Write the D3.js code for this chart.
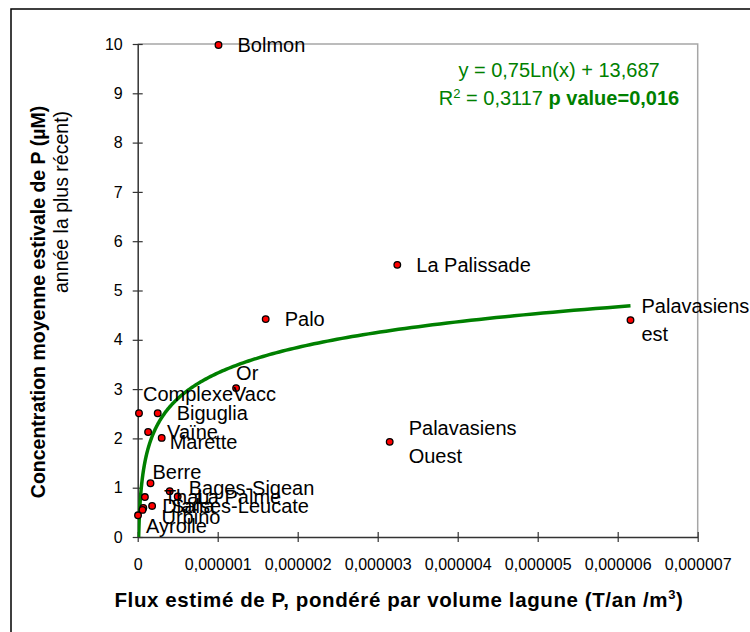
<!DOCTYPE html>
<html>
<head>
<meta charset="utf-8">
<script src="https://cdn.jsdelivr.net/npm/d3@7"></script>
<style>
  body { margin: 0; background: #fff; }
  text { font-family: "Liberation Sans", Arial, sans-serif; }
</style>
</head>
<body>
<script>
// lagoons, flux (T/an/m3) and summer P concentration (uM)
var lagoons = ["Bolmon", "La Palissade", "Palo", "Palavasiens\nest", "Palavasiens\nOuest",
  "Or", "ComplexeVacc", "Biguglia", "Vaïne", "Marette", "Berre", "Bages-Sigean",
  "La Palme", "Thau", "Salses-Leucate", "Diana", "Urbino", "Ayrolle"];
var flux = [1.01e-6, 3.245e-6, 1.60e-6, 6.16e-6, 3.15e-6,
  1.23e-6, 0.016e-6, 0.25e-6, 0.13e-6, 0.30e-6, 0.16e-6, 0.40e-6,
  0.50e-6, 0.09e-6, 0.18e-6, 0.07e-6, 0.06e-6, 0.004e-6];
var conc = [9.98, 5.52, 4.42, 4.40, 1.93,
  3.02, 2.51, 2.51, 2.13, 2.01, 1.09, 0.93,
  0.82, 0.81, 0.63, 0.59, 0.55, 0.44];

var xTicks = [0, 1e-6, 2e-6, 3e-6, 4e-6, 5e-6, 6e-6, 7e-6];
var yTicks = [0, 1, 2, 3, 4, 5, 6, 7, 8, 9, 10];

// log trendline shown on the chart: y = 0,75 Ln(x) + 13,687
var trendA = 0.75, trendB = 13.687;

// hand placed labels (offsets from the default "right of point")
var labelNudge = {
  "Palavasiens\nest": [-8, 0],
  "Or": [-19, -15],
  "ComplexeVacc": [-15, -19],
  "Marette": [-11, 4],
  "Berre": [-17, -11],
  "Bages-Sigean": [0, -3],
  "Diana": [0, -2],
  "Urbino": [0, 7],
  "Ayrolle": [-11, 11]
};

var width = 750, height = 632;
var plot = {left: 137.7, right: 697.7, top: 44, bottom: 537};

var svg = d3.select("body").append("svg")
    .attr("width", width)
    .attr("height", height);

svg.append("rect")
    .attr("x", 11).attr("y", 9)
    .attr("width", 900).attr("height", 800)
    .attr("fill", "#fff")
    .attr("stroke", "#000")
    .attr("stroke-width", 1.5);

var x = d3.scaleLinear().domain([0, 7e-6]).range([plot.left, plot.right]);
var y = d3.scaleLinear().domain([0, 10]).range([plot.bottom, plot.top]);

// plot frame (top and right)
svg.append("path")
    .attr("d", "M" + plot.left + "," + plot.top + "H" + plot.right + "V" + plot.bottom)
    .attr("fill", "none")
    .attr("stroke", "#a6a6a6")
    .attr("stroke-width", 1.5);

var yAxis = d3.axisLeft(y)
    .tickValues(yTicks)
    .tickSizeInner(5)
    .tickSizeOuter(0)
    .tickPadding(10);

var xAxis = d3.axisBottom(x)
    .tickValues(xTicks)
    .tickSizeInner(5)
    .tickSizeOuter(0)
    .tickPadding(17)
    .tickFormat(function(d) { return d === 0 ? "0" : d.toFixed(6).replace(".", ","); });

var yg = svg.append("g")
    .attr("transform", "translate(" + plot.left + ",0)")
    .call(yAxis);

var xg = svg.append("g")
    .attr("transform", "translate(0," + plot.bottom + ")")
    .call(xAxis);

[yg, xg].forEach(function(g) {
  g.select(".domain").attr("stroke", "#333").attr("stroke-width", 1.5);
  g.selectAll(".tick line").attr("stroke", "#333").attr("stroke-width", 1.2);
  g.selectAll(".tick text")
      .attr("fill", "#000")
      .style("font-size", "16px")
      .style("font-family", "'Liberation Sans', Arial, sans-serif");
});
yg.selectAll(".tick line").attr("x1", -5).attr("x2", 5);
xg.selectAll(".tick line").attr("y1", -5).attr("y2", 5);

// trendline
svg.append("clipPath").attr("id", "plotclip")
  .append("rect")
    .attr("x", plot.left).attr("y", plot.top)
    .attr("width", plot.right - plot.left).attr("height", plot.bottom - plot.top);

var xmin = d3.min(flux), xmax = d3.max(flux);
var tx = d3.range(0, 301).map(function(i) {
  return Math.exp(Math.log(xmin) + (Math.log(xmax) - Math.log(xmin)) * i / 300);
});

svg.append("path")
    .datum(tx)
    .attr("clip-path", "url(#plotclip)")
    .attr("fill", "none")
    .attr("stroke", "#008000")
    .attr("stroke-width", 3.5)
    .attr("d", d3.line()
      .x(function(d) { return x(d); })
      .y(function(d) { return y(trendA * Math.log(d) + trendB); }));

// points
var pts = lagoons.map(function(name, i) { return {name: name, fx: flux[i], c: conc[i]}; });

svg.append("g").selectAll("circle")
  .data(pts)
  .join("circle")
    .attr("cx", function(d) { return x(d.fx); })
    .attr("cy", function(d) { return y(d.c); })
    .attr("r", 3.3)
    .attr("fill", "#ff0000")
    .attr("stroke", "#000")
    .attr("stroke-width", 1.3);

// labels
var lab = svg.append("g").selectAll("text")
  .data(pts)
  .join("text")
    .attr("x", function(d) { return x(d.fx) + 19 + (labelNudge[d.name] || [0, 0])[0]; })
    .attr("y", function(d) { return y(d.c) + (labelNudge[d.name] || [0, 0])[1]; })
    .style("font-size", "20px")
    .attr("fill", "#000");

lab.each(function(d) {
  var lines = d.name.split("\n");
  var t = d3.select(this);
  var x0 = t.attr("x");
  lines.forEach(function(s, k) {
    t.append("tspan")
      .attr("x", x0)
      .attr("dy", k === 0 ? (0.35 - (lines.length - 1) * 0.7) + "em" : "1.4em")
      .text(s);
  });
});

// equation
var eq = svg.append("g").attr("fill", "#008000").style("font-size", "20px");
eq.append("text")
    .attr("x", 559).attr("y", 77)
    .attr("text-anchor", "middle")
    .text("y = 0,75Ln(x) + 13,687");
var r2 = eq.append("text")
    .attr("x", 559).attr("y", 105)
    .attr("text-anchor", "middle");
r2.append("tspan").text("R");
r2.append("tspan").attr("dy", -7).style("font-size", "13px").text("2");
r2.append("tspan").attr("dy", 7).text(" = 0,3117 ");
r2.append("tspan").style("font-weight", "bold").text("p value=0,016");

// axis titles
svg.append("text")
    .attr("transform", "translate(45,302) rotate(-90)")
    .attr("text-anchor", "middle")
    .style("font-size", "19.5px")
    .style("font-weight", "bold")
    .text("Concentration moyenne estivale de P (µM)");

svg.append("text")
    .attr("transform", "translate(68,202) rotate(-90)")
    .attr("text-anchor", "middle")
    .style("font-size", "19.5px")
    .text("année la plus récent)");

var xt = svg.append("text")
    .attr("x", 399).attr("y", 607)
    .attr("text-anchor", "middle")
    .style("font-size", "20.5px")
    .style("font-weight", "bold")
    .style("letter-spacing", "0.6px");
xt.append("tspan").text("Flux estimé de P, pondéré par volume lagune (T/an /m");
xt.append("tspan").attr("dy", -8).style("font-size", "13px").text("3");
xt.append("tspan").attr("dy", 8).text(")");
</script>
</body>
</html>
